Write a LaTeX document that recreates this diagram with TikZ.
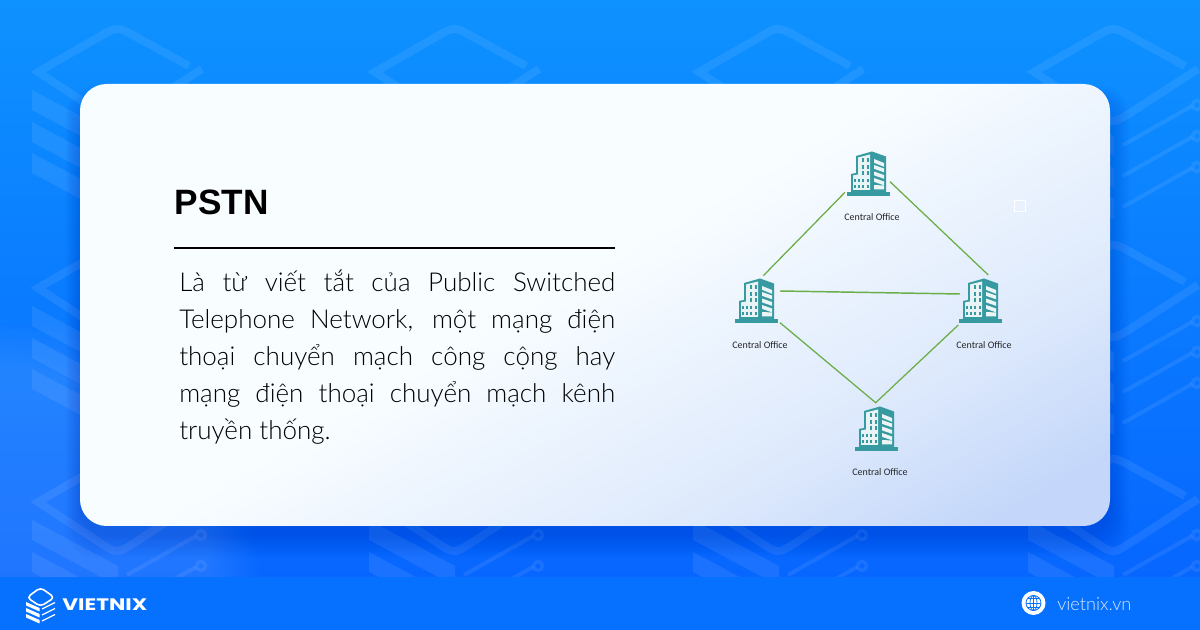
\documentclass[tikz,border=0pt]{standalone}
\usepackage{fontspec}
\setmainfont{Liberation Sans}
\newfontfamily\bodyf{Lato Light}
\newfontfamily\labf{Carlito}
\newfontfamily\logof{Poppins}
\usetikzlibrary{fadings}
\definecolor{teal0}{HTML}{389AA1}
\definecolor{edgeg}{HTML}{6BAE48}
\definecolor{footb}{HTML}{0670FF}
\definecolor{topb}{HTML}{0E92FF}
\definecolor{botb}{HTML}{0662FF}
\definecolor{cardA}{HTML}{F8FDFF}
\definecolor{cardB}{HTML}{EFF6FE}
\definecolor{cardC}{HTML}{DDE9FC}
\definecolor{cardD}{HTML}{C4D7FA}
\pgfdeclarehorizontalshading{cardgrad}{100bp}{
  color(0bp)=(cardA); color(49bp)=(cardA); color(51.8bp)=(cardB); color(57.3bp)=(cardC); color(62bp)=(cardD); color(100bp)=(cardD)}
\newcommand{\jline}[1]{\hbox to 327pt{\spaceskip=0pt plus 1fil\relax #1}}
\tikzset{
  x=0.75pt, y=-0.75pt,
  tilestroke/.style={draw=white, draw opacity=.08, line width=6pt},
  tileband/.style={fill=white, fill opacity=.08},
  conn/.style={draw=edgeg, line width=0.95pt},
  lbl/.style={font=\labf\fontsize{7.5}{8}\selectfont, text=black!85, inner sep=0pt},
  bodyline/.style={anchor=base west, inner sep=0pt, font=\bodyf\fontsize{19.5}{24}\selectfont, text=black},
  pics/bldg/.style={code={
    \fill[teal0] (-21.5,-4.3) rectangle (21.5,0);
    \fill[teal0] (-17,-4) -- (-17,-22) -- (-12,-23) -- (-12,-40) -- (4,-44.5) -- (18,-39.5) -- (18,-4) -- cycle;
    \fill[white!88!teal0] (-15,-6) -- (-15,-20.5) -- (-10,-21.5) -- (-10,-38.5) -- (2,-41.5) -- (2,-6) -- cycle;
    \foreach \yy in {-36,-29,-23} \foreach \xx in {-5,0}
      \fill[teal0] (\xx-1.3,\yy-1.6) rectangle (\xx+1.3,\yy+1.6);
    \foreach \yy in {-15,-9} \foreach \xx in {-13,-9,-5,0}
      \fill[teal0] (\xx-1.2,\yy-1.5) rectangle (\xx+1.2,\yy+1.5);
    \foreach \a/\b in {-37/-33,-31/-27.5,-24.5/-21,-18/-14.5}
      \fill[white!90!teal0] (6,\a) -- (16,\b) -- (16,\b+3.8) -- (6,\a+3.8) -- cycle;
    \fill[white!90!teal0] (6,-11) -- (16,-10.5) -- (16,-6.5) -- (6,-6.5) -- cycle;
  }}
}
\begin{document}
\begin{tikzpicture}
\useasboundingbox (0,0) rectangle (1200,630);
\clip (0,0) rectangle (1200,630);
% background
\shade[top color=topb, bottom color=botb] (0,0) rectangle (1200,630);
\fill[white, opacity=.1, path fading=circle with fuzzy edge 20 percent] (0,577) circle[radius=260];
% tiled pattern
\foreach \tx in {33,370,694,1029} \foreach \ty in {72,288,502} {
  \begin{scope}[shift={(\tx,\ty)}]
    \draw[tilestroke, line join=miter] (156,-6) -- (102,-35.7) .. controls (84,-45.6) .. (66,-35) -- (5,0) -- (66,40) .. controls (84,52) .. (102,40.4) -- (169,-3);
    \foreach \bandy in {18,50,81}
      \fill[tileband] (-1,\bandy) -- (-1,\bandy+20) -- (85,\bandy+66) -- (85,\bandy+46) -- cycle;
    \foreach \ringy in {33,64,95} {
      \draw[tilestroke, line width=3pt] (94,\ringy+40) -- (163,\ringy+1);
      \draw[tilestroke, line width=2.6pt] (168,\ringy) circle[radius=4.5];
    }
  \end{scope}
}
% footer
\fill[footb] (0,577) rectangle (1200,630);
% card shadow
\foreach \s in {2,4,...,24}
  \fill[blue!60!black, opacity=.017, rounded corners=22pt] (80-0.6*\s,110-\s) rectangle (1110+0.8*\s,534+\s);
% card
\begin{scope}
  \clip[rounded corners=20pt] (80,84) rectangle (1110,526);
  \shade[shading=cardgrad, shading angle=-60] (-210,-500) rectangle (1400,1110);
\end{scope}
% text
\node[anchor=base west, inner sep=0pt, text=black, font=\bfseries\fontsize{26.4}{30}\selectfont] (title) at (174.5,215) {PSTN};
\coordinate (ruleA) at (174,248);
\coordinate (ruleB) at (615,248);
\draw[black, line width=1.5pt] (ruleA) -- (ruleB);
\node[bodyline] (l1) at (179,292) {\jline{Là từ viết tắt của Public Switched}};
\node[bodyline] (l2) at (179,329) {\jline{Telephone Network, một mạng điện}};
\node[bodyline] (l3) at (179,366) {\jline{thoại chuyển mạch công cộng hay}};
\node[bodyline] (l4) at (179,403) {\jline{mạng điện thoại chuyển mạch kênh}};
\node[bodyline] (l5) at (179,440) {truyền thống.};
% buildings
\pic at (868,196) {bldg};
\pic at (756,323) {bldg};
\pic at (980,323) {bldg};
\pic at (876,451) {bldg};
\node[lbl] (labT) at (872,217) {Central Office};
\node[lbl] (labL) at (760,345) {Central Office};
\node[lbl] (labR) at (984,345) {Central Office};
\node[lbl] (labB) at (880,472) {Central Office};
% connector ends
\coordinate (tA) at (845,192.3);
\coordinate (tB) at (890,181.7);
\coordinate (lA) at (763.3,275.7);
\coordinate (lB) at (780,291);
\coordinate (lC) at (780,322.7);
\coordinate (rA) at (988.3,275);
\coordinate (rB) at (960,294);
\coordinate (rC) at (958.3,325);
\coordinate (bA) at (875.7,402.7);
\draw[conn] (tA) -- (lA);
\draw[conn] (tB) -- (rA);
\draw[conn, line width=1.1pt] (lB) -- (rB);
\draw[conn] (lC) -- (bA) -- (rC);
% small square
\draw[white, line width=0.75pt] (1014.5,200.5) rectangle (1025.5,211.5);
% footer logo
\begin{scope}
  \draw[white, line width=1.2pt, rounded corners=3pt, line join=round] (27,597.5) -- (40.5,587.5) -- (54.5,597.5) -- (40.5,606.5) -- cycle;
  \foreach \yy in {602,608,614} {
    \fill[white] (26,\yy) -- (26,\yy+3.5) -- (39.5,\yy+9.5) -- (39.5,\yy+6) -- cycle;
    \draw[white, line width=1pt] (42,\yy+7) -- (55,\yy+0.5);
  }
\end{scope}
\node[anchor=base west, inner sep=0pt, text=white, transform shape, xscale=1.3, font=\logof\bfseries\fontsize{12.5}{14}\selectfont] (logo) at (62,611) {VIETNIX};
% globe
\fill[white] (1033.5,603) circle[radius=12];
\begin{scope}[footb, line width=0.6pt]
  \draw (1033.5,603) circle[radius=7.5];
  \draw (1033.5,603) ellipse[x radius=3.5, y radius=7.5];
  \draw (1033.5,595.5) -- (1033.5,610.5);
  \draw (1026,603) -- (1041,603);
  \draw (1027.5,598.7) -- (1039.5,598.7);
  \draw (1027.5,607.3) -- (1039.5,607.3);
\end{scope}
\node[anchor=base west, inner sep=0pt, text=white!85!footb, font=\bodyf\fontsize{13.6}{16}\selectfont] (site) at (1057,610) {vietnix.vn};
\end{tikzpicture}
\end{document}
